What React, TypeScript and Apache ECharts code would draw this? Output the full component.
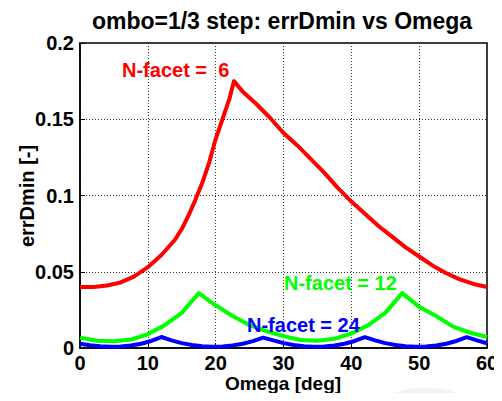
import React, { useEffect, useRef } from "react";
import * as echarts from "echarts";

const titleText = "ombo=1/3 step: errDmin vs Omega";
const xName = "Omega [deg]";
const yName = "errDmin [-]";
const xTicks = [0, 10, 20, 30, 40, 50, 60];
const yTicks = [0, 0.05, 0.1, 0.15, 0.2];

const omega6 = [0, 2, 4, 6, 8, 10, 12, 14, 15, 16, 17, 18, 19, 20, 21, 22, 22.7, 24, 26, 28, 30, 32, 34, 36, 38, 40, 42, 44, 46, 48, 50, 52, 54, 56, 58, 60];
const err6 = [0.040, 0.040, 0.041, 0.043, 0.047, 0.053, 0.061, 0.071, 0.078, 0.087, 0.097, 0.108, 0.121, 0.137, 0.150, 0.163, 0.175, 0.168, 0.160, 0.151, 0.141, 0.133, 0.124, 0.115, 0.105, 0.096, 0.088, 0.080, 0.073, 0.066, 0.060, 0.054, 0.049, 0.045, 0.042, 0.040];

const omega12 = [0, 2.5, 5, 7.5, 10, 12.5, 15, 17.5, 20, 22.5, 25, 27.5, 30, 32.5, 35, 37.5, 40, 42.5, 45, 47.5, 50, 52.5, 55, 57.5, 60];
const err12 = [0.0068, 0.0048, 0.0045, 0.0055, 0.009, 0.015, 0.023, 0.036, 0.028, 0.021, 0.015, 0.011, 0.0078, 0.0052, 0.0048, 0.006, 0.0095, 0.015, 0.023, 0.036, 0.027, 0.021, 0.014, 0.010, 0.0073];

const omega24 = [0, 1.5, 3, 4.5, 6, 7.5, 9, 10.5, 12, 13.5, 15, 16.5, 18, 19.5, 21, 22.5, 24, 25.5, 27, 28.5, 30, 31.5, 33, 34.5, 36, 37.5, 39, 40.5, 42, 43.5, 45, 46.5, 48, 49.5, 51, 52.5, 54, 55.5, 57, 58.5, 60];
const err24 = [0.0028, 0.0018, 0.0011, 0.0008, 0.001, 0.0016, 0.0028, 0.0046, 0.0072, 0.005, 0.0032, 0.002, 0.0012, 0.0008, 0.001, 0.0016, 0.0028, 0.0045, 0.0068, 0.005, 0.0032, 0.002, 0.0012, 0.0008, 0.001, 0.0016, 0.0028, 0.0046, 0.0071, 0.005, 0.0032, 0.002, 0.0012, 0.0008, 0.001, 0.0016, 0.0028, 0.0046, 0.0071, 0.005, 0.0031];

const seriesNames = ["N-facet =  6", "N-facet = 12", "N-facet = 24"];
const seriesColors = ["#ff0000", "#00ff00", "#0000ff"];

const FONT = "'Liberation Sans', Arial, Helvetica, sans-serif";

export default function App() {
  const ref = useRef<HTMLDivElement>(null);
  useEffect(() => {
    if (!ref.current) return;
    const chart = echarts.init(ref.current, null, { renderer: "svg" });
    const pairs = (xs: number[], ys: number[]) => xs.map((x, i) => [x, ys[i]]);
    const datasets = [pairs(omega6, err6), pairs(omega12, err12), pairs(omega24, err24)];
    chart.setOption({
      animation: false,
      backgroundColor: "#ffffff",
      grid: {
        left: 80,
        right: 15,
        top: 43,
        bottom: 53,
        show: true,
        borderColor: "#000",
        borderWidth: 1.5,
        backgroundColor: "transparent",
      },
      xAxis: {
        type: "value",
        min: xTicks[0],
        max: xTicks[xTicks.length - 1],
        interval: xTicks[1] - xTicks[0],
        axisLine: { show: true, onZero: false, lineStyle: { color: "#000", width: 1.5 } },
        axisTick: { show: true, inside: true, length: 5, lineStyle: { color: "#000" } },
        axisLabel: { color: "#000", fontSize: 20, lineHeight: 17, fontWeight: "bold", fontFamily: FONT, margin: 6 },
        splitLine: { show: true, lineStyle: { color: "#333", type: [1, 2], width: 1 } },
      },
      yAxis: {
        type: "value",
        min: yTicks[0],
        max: yTicks[yTicks.length - 1],
        interval: yTicks[1] - yTicks[0],
        axisLine: { show: true, onZero: false, lineStyle: { color: "#000", width: 1.5 } },
        axisTick: { show: true, inside: true, length: 5, lineStyle: { color: "#000" } },
        axisLabel: {
          color: "#000",
          fontSize: 20,
          fontWeight: "bold",
          fontFamily: FONT,
          margin: 6,
          formatter: (v: number) => String(+v.toFixed(2)),
        },
        splitLine: { show: true, lineStyle: { color: "#333", type: [1, 2], width: 1 } },
      },
      series: datasets.map((d, i) => ({
        type: "line",
        name: seriesNames[i],
        data: d,
        showSymbol: false,
        symbol: "none",
        lineStyle: { color: seriesColors[i], width: 4, join: "round" },
        z: 3 + i,
      })),
      graphic: [
        {
          type: "ellipse",
          shape: { cx: 425, cy: 410, rx: 50, ry: 22 },
          style: { fill: "#f2f2f2" },
          silent: true,
          z: -10,
        },
        {
          type: "text",
          x: 282,
          y: 21,
          style: {
            text: titleText,
            fill: "#000",
            font: `bold 23px ${FONT}`,
            textAlign: "center",
            textVerticalAlign: "middle",
          },
        },
        {
          type: "text",
          x: 283,
          y: 383,
          style: {
            text: xName,
            fill: "#000",
            font: `bold 19px ${FONT}`,
            textAlign: "center",
            textVerticalAlign: "middle",
          },
        },
        {
          type: "text",
          x: 27,
          y: 196,
          rotation: Math.PI / 2,
          style: {
            text: yName,
            fill: "#000",
            font: `bold 20px ${FONT}`,
            textAlign: "center",
            textVerticalAlign: "middle",
          },
        },
        {
          type: "text",
          x: 122,
          y: 70,
          style: {
            text: seriesNames[0],
            fill: seriesColors[0],
            font: `bold 20px ${FONT}`,
            textAlign: "left",
            textVerticalAlign: "middle",
          },
          z: 10,
        },
        {
          type: "text",
          x: 284,
          y: 283,
          style: {
            text: seriesNames[1],
            fill: seriesColors[1],
            font: `bold 20px ${FONT}`,
            textAlign: "left",
            textVerticalAlign: "middle",
          },
          z: 10,
        },
        {
          type: "text",
          x: 247,
          y: 325,
          style: {
            text: seriesNames[2],
            fill: seriesColors[2],
            font: `bold 20px ${FONT}`,
            textAlign: "left",
            textVerticalAlign: "middle",
          },
          z: 10,
        },
      ],
    });
    return () => chart.dispose();
  }, []);
  return <div ref={ref} style={{ width: 502, height: 401, margin: -8 }} />;
}
